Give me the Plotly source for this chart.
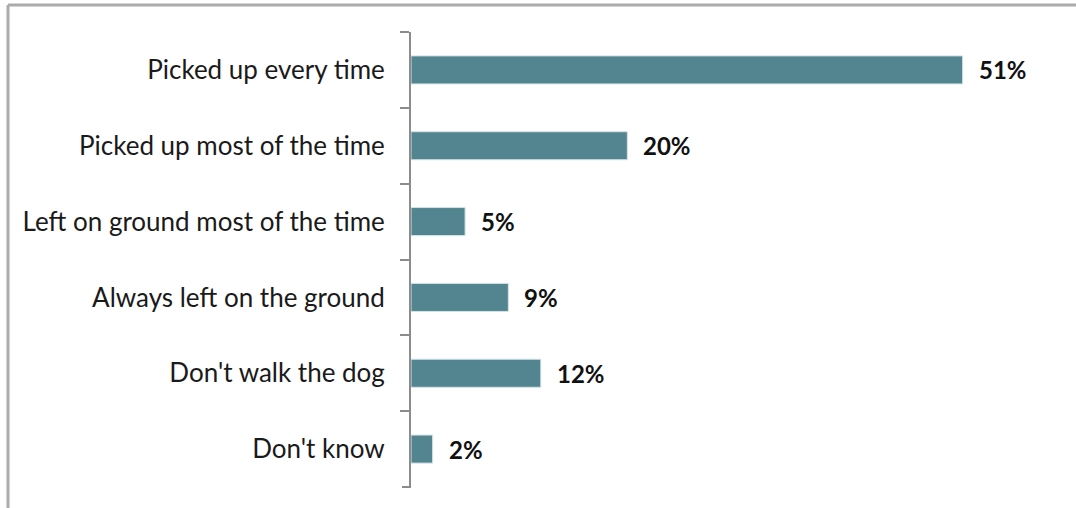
import plotly.graph_objects as go

# Survey responses: what happens to dog waste on walks
categories = [
    "Picked up every time",
    "Picked up most of the time",
    "Left on ground most of the time",
    "Always left on the ground",
    "Don't walk the dog",
    "Don't know",
]
shares = [51, 20, 5, 9, 12, 2]

W, H = 1076, 508
M_L, M_R, M_T, M_B = 411, 16, 32, 21
X_MAX = 60

bar_color = "#52858F"
axis_grey = "#8C8C8C"
frame_grey = "#ABABAB"
font_family = "Lato, 'Open Sans', sans-serif"

fig = go.Figure(
    go.Bar(
        x=shares,
        y=categories,
        orientation="h",
        marker=dict(color=bar_color, line=dict(color="#D5E3E6", width=1)),
        hoverinfo="x+y",
    )
)

# value labels at the end of each bar
for cat, val in zip(categories, shares):
    fig.add_annotation(
        x=val, y=cat, xref="x", yref="y",
        text=f"<b>{val}%</b>", showarrow=False,
        xanchor="left", xshift=14, yshift=0,
        font=dict(family=font_family, size=24, color="#111111"),
    )

# chart frame (top and left edges)
plot_w = W - M_L - M_R
plot_h = H - M_T - M_B
def px_x(p):
    return (p - M_L) / plot_w
def px_y(p):
    return (H - M_B - p) / plot_h

fig.add_shape(type="line", xref="paper", yref="paper",
              x0=px_x(8), x1=px_x(W + 5), y0=px_y(5), y1=px_y(5),
              line=dict(color=frame_grey, width=3))
fig.add_shape(type="line", xref="paper", yref="paper",
              x0=px_x(8), x1=px_x(8), y0=px_y(5), y1=px_y(H + 5),
              line=dict(color=frame_grey, width=3))
# closing tick at the bottom boundary of the category axis
fig.add_shape(type="line", xref="paper", yref="paper",
              x0=px_x(402), x1=px_x(411), y0=0, y1=0,
              line=dict(color=axis_grey, width=2))

fig.update_layout(
    width=W, height=H,
    margin=dict(l=M_L, r=M_R, t=M_T, b=M_B, pad=0),
    plot_bgcolor="white", paper_bgcolor="white",
    bargap=0.63,
    showlegend=False,
    font=dict(family=font_family, size=26, color="#1A1A1A"),
    xaxis=dict(range=[0, X_MAX], visible=False, fixedrange=True),
    yaxis=dict(
        autorange="reversed",
        showline=True, linecolor=axis_grey, linewidth=2,
        ticks="outside", tickson="boundaries", ticklen=9,
        tickcolor=axis_grey, tickwidth=2,
        ticklabelstandoff=19,
        showgrid=False, zeroline=False,
        tickfont=dict(family=font_family, size=26, color="#1A1A1A"),
    ),
)

fig.write_html("out.html")
